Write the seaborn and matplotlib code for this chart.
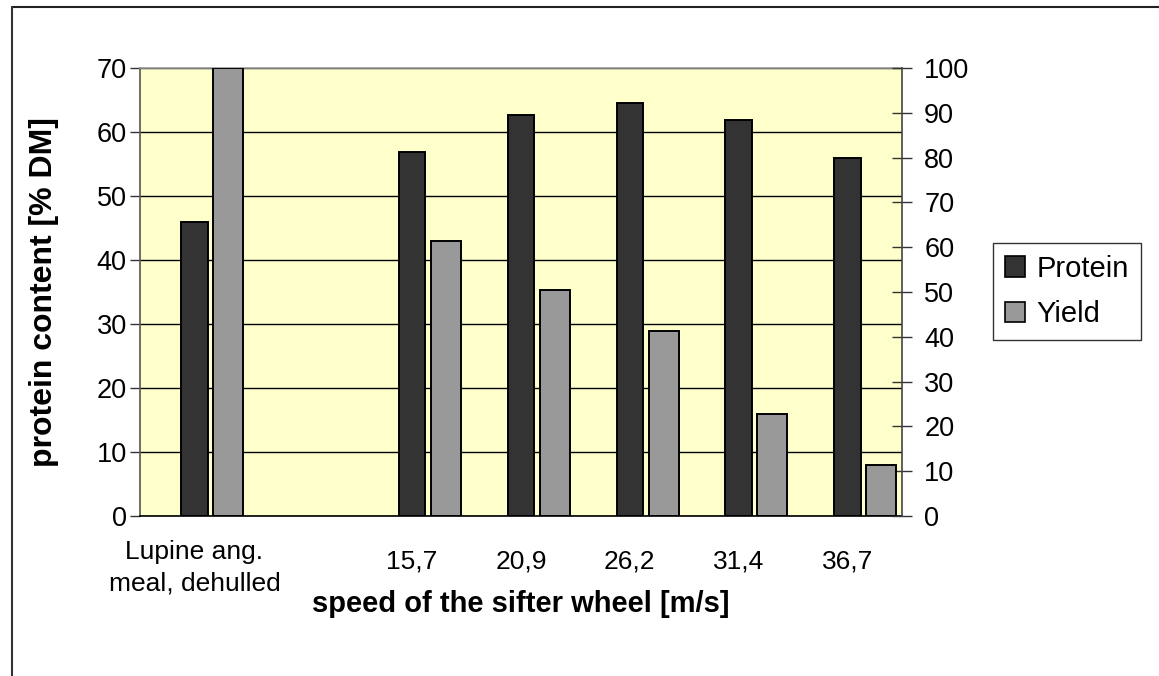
import numpy as np
import pandas as pd
import matplotlib
matplotlib.use("Agg")
import matplotlib.pyplot as plt
from matplotlib.patches import Patch
from matplotlib.lines import Line2D
from matplotlib.transforms import ScaledTranslation
import seaborn as sns

# ---- data -------------------------------------------------------------
categories = ["Lupine ang.\nmeal, dehulled", "", "15,7", "20,9", "26,2", "31,4", "36,7"]
protein = [46.0, np.nan, 56.8, 62.7, 64.6, 61.8, 55.9]     # % DM, left axis
yield_pct = [100.0, np.nan, 61.4, 50.4, 41.3, 22.7, 11.4]  # %, right axis
series_names = ["Protein", "Yield"]
series_colors = ["#333333", "#999999"]

# ---- style ------------------------------------------------------------
sns.set_style("white")
plt.rcParams["font.family"] = ["Liberation Sans", "DejaVu Sans"]
plt.rcParams["text.color"] = "black"
plt.rcParams["axes.labelcolor"] = "black"
plt.rcParams["xtick.color"] = "black"
plt.rcParams["ytick.color"] = "black"

W, H = 1159, 676
fig = plt.figure(figsize=(W / 100, H / 100), dpi=100)
ax = fig.add_axes([140 / W, 1 - 516 / H, 762 / W, 448 / H])
ax.set_facecolor("#FFFFCC")
ax2 = ax.twinx()

idx = np.arange(len(categories))
P_OFF, Y_OFF = 0.0, 0.31
df_p = pd.DataFrame({"pos": idx + P_OFF, "value": protein}).dropna()
df_y = pd.DataFrame({"pos": idx + Y_OFF, "value": yield_pct}).dropna()

sns.barplot(data=df_p, x="pos", y="value", native_scale=True, orient="x",
            width=0.245, color=series_colors[0], saturation=1,
            edgecolor="black", linewidth=1.4, ax=ax, zorder=2)
sns.barplot(data=df_y, x="pos", y="value", native_scale=True, orient="x",
            width=0.275, color=series_colors[1], saturation=1,
            edgecolor="black", linewidth=1.4, ax=ax2, zorder=2)

# ---- axes -------------------------------------------------------------
ax.set_xlim(-0.5, len(categories) - 0.5)
ax.set_ylim(0, 70)
ax2.set_ylim(0, 100)
ax.set_yticks(np.arange(0, 71, 10))
ax2.set_yticks(np.arange(0, 101, 10))

ax.set_axisbelow(True)
ax.yaxis.grid(True, color="black", linewidth=1.0)
ax.xaxis.grid(False)

ax.set_xticks(idx)
ax.set_xticklabels(categories)
ax.set_xticks(np.arange(-0.5, len(categories), 1), minor=True)
ax.tick_params(axis="x", which="major", length=0, pad=33, labelsize=19,
               labelcolor="black")
ax.tick_params(axis="x", which="minor", direction="out", length=6,
               width=1, color="#777777")
xlabels = ax.get_xticklabels()
for lab in xlabels:
    lab.set_va("center")
# the two-line label sits a little lower and is more open than the others
xlabels[0].set_linespacing(1.4)
xlabels[0].set_transform(xlabels[0].get_transform()
                         + ScaledTranslation(0, -6 / 100, fig.dpi_scale_trans))

ax.tick_params(axis="y", direction="out", length=7, width=1,
               color="#333333", pad=2.5, labelsize=19.5, left=True,
               labelcolor="black")
ax2.tick_params(axis="y", direction="inout", length=14, width=1,
                color="#333333", pad=9, labelsize=19.5, right=True,
                labelcolor="black")

ax.set_xlabel("speed of the sifter wheel [m/s]", fontsize=21,
              fontweight="bold", color="black")
ax.xaxis.set_label_coords(0.5, (516 - 604) / 448)
ax.xaxis.label.set_va("center")
ax.set_ylabel("protein content [% DM]", fontsize=23, fontweight="bold",
              color="black")
ax.yaxis.set_label_coords((44 - 140) / 762, 0.5)
ax.yaxis.label.set_va("center")
ax2.set_ylabel("")
ax2.set_xlabel("")

for side in ["left", "top", "bottom"]:
    ax2.spines[side].set_visible(False)
ax.spines["right"].set_visible(False)
ax.spines["left"].set_color("#555555")
ax.spines["bottom"].set_color("black")
ax.spines["top"].set_color("#999999")
ax2.spines["right"].set_color("#444444")
for sp in list(ax.spines.values()) + [ax2.spines["right"]]:
    sp.set_linewidth(1.2)

# ---- legend -----------------------------------------------------------
handles = [Patch(facecolor=c, edgecolor="black", linewidth=1.2, label=n)
           for n, c in zip(series_names, series_colors)]
leg = fig.legend(handles=handles, loc="upper left",
                 bbox_to_anchor=(993 / W, 1 - 243 / H), frameon=True,
                 fancybox=False, shadow=False, edgecolor="black",
                 fontsize=21, borderaxespad=0, handlelength=0.7,
                 handleheight=0.7, handletextpad=0.4, labelspacing=0.6,
                 borderpad=0.4)
leg.get_frame().set_linewidth(1.0)
for t in leg.get_texts():
    t.set_color("black")

# ---- outer frame ------------------------------------------------------
fig.add_artist(Line2D([12 / W, 1], [1 - 7 / H, 1 - 7 / H],
                      transform=fig.transFigure, color="#222222", linewidth=1.5))
fig.add_artist(Line2D([12 / W, 12 / W], [0, 1 - 7 / H],
                      transform=fig.transFigure, color="#333333", linewidth=1.5))

fig.savefig("out.png", dpi=100, facecolor="white")
